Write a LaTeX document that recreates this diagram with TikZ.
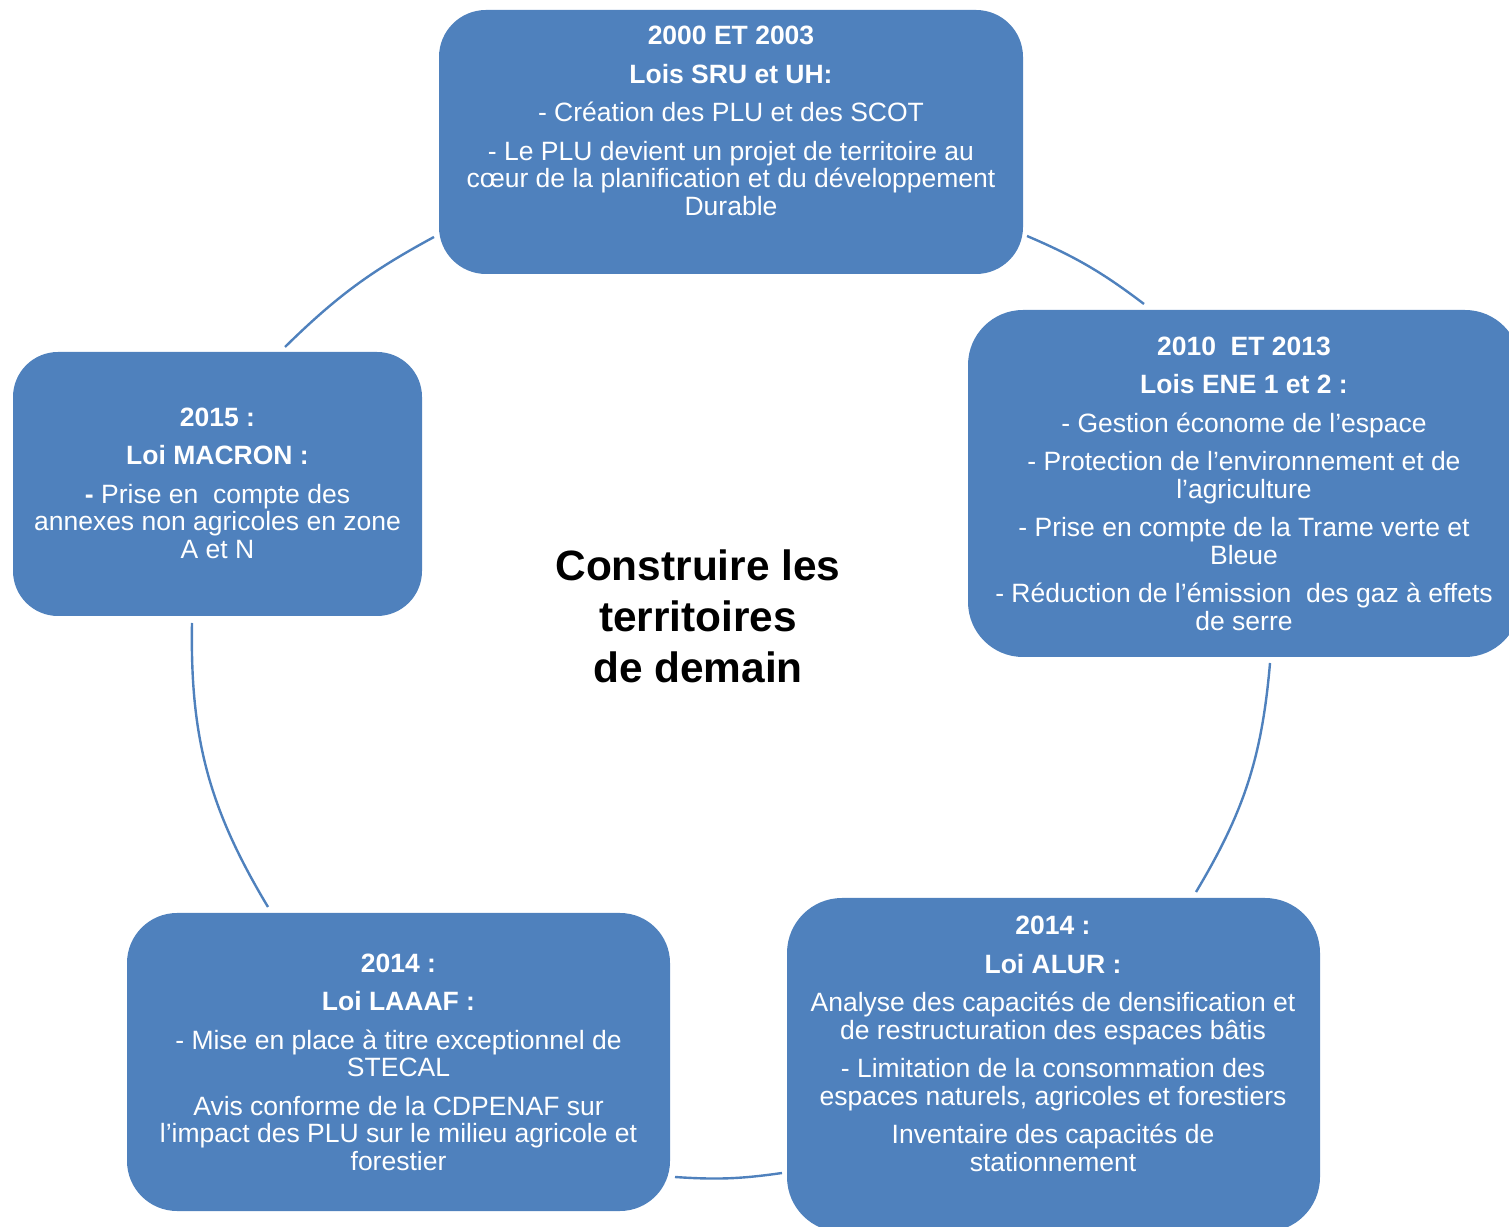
\documentclass[tikz,border=0pt]{standalone}
\usepackage{fontspec}
\setmainfont{Liberation Sans}
\usetikzlibrary{calc}
\definecolor{boxblue}{RGB}{79,129,189}
\begin{document}
\begin{tikzpicture}[x=1pt,y=1pt,
  lawbox/.style={rectangle, fill=boxblue, inner sep=0pt},
  lawtxt/.style={text=white, align=center, inner sep=0pt, font=\fontsize{26.5}{27.5}\selectfont},
  titletxt/.style={text=black, align=center, inner sep=0pt, font=\bfseries\fontsize{42.4}{51}\selectfont},
  link/.style={draw=boxblue, line width=2.4pt}]
\useasboundingbox (0,0) rectangle (1509,1226);
\clip (0,0) rectangle (1509,1226);
% boxes
\node[lawbox, rounded corners=47pt, minimum width=584pt, minimum height=264pt] (top) at (731,1084) {};
\node[lawbox, rounded corners=55pt, minimum width=552pt, minimum height=347pt] (right) at (1244,742.5) {};
\node[lawbox, rounded corners=45pt, minimum width=409pt, minimum height=264pt] (left) at (217.5,742) {};
\node[lawbox, rounded corners=50pt, minimum width=543pt, minimum height=298pt] (botleft) at (398.5,164) {};
\node[lawbox, rounded corners=55pt, minimum width=533pt, minimum height=334pt] (botright) at (1053.5,161) {};
% texts
\node[lawtxt] (toptxt) at (731,1105) {\textbf{2000 ET 2003}\\[11pt]\textbf{Lois SRU et UH:}\\[11pt]- Création des PLU et des SCOT\\[11pt]- Le PLU devient un projet de territoire au\\cœur de la planification et du développement\\Durable};
\node[lawtxt] (righttxt) at (1244,742.5) {\textbf{2010~ ET 2013}\\[11pt]\textbf{Lois ENE 1 et 2 :}\\[11pt]- Gestion économe de l’espace\\[11pt]- Protection de l’environnement et de\\l’agriculture\\[11pt]- Prise en compte de la Trame verte et\\Bleue\\[11pt]- Réduction de l’émission~ des gaz à effets\\de serre};
\node[lawtxt] (lefttxt) at (217.5,743) {\textbf{2015 :}\\[11pt]\textbf{Loi MACRON :}\\[11pt]\textbf{-} Prise en~ compte des\\annexes non agricoles en zone\\A et N};
\node[lawtxt] (botlefttxt) at (398.5,164) {\textbf{2014 :}\\[11pt]\textbf{Loi LAAAF :}\\[11pt]- Mise en place à titre exceptionnel de\\STECAL\\[11pt]Avis conforme de la CDPENAF sur\\l’impact des PLU sur le milieu agricole et\\forestier};
\node[lawtxt] (botrighttxt) at (1053,182) {\textbf{2014 :}\\[11pt]\textbf{Loi ALUR :}\\[11pt]Analyse des capacités de densification et\\de restructuration des espaces bâtis\\[11pt]- Limitation de la consommation des\\espaces naturels, agricoles et forestiers\\[11pt]Inventaire des capacités de\\stationnement};
\node[titletxt] (title) at (698,610) {Construire les\\territoires\\de demain};
% connector ends
\coordinate (a1s) at (434,989);  \coordinate (a1e) at (285,879);
\coordinate (a2s) at (1027,990); \coordinate (a2e) at (1144,922);
\coordinate (a3s) at (192,603);  \coordinate (a3e) at (268,319);
\coordinate (a4s) at (1270,563); \coordinate (a4e) at (1196,334);
\coordinate (a5s) at (675,49);   \coordinate (a5e) at (782,53);
% connectors
\draw[link] (a1s) to[bend right=8] (a1e);
\draw[link] (a2s) to[bend left=7] (a2e);
\draw[link] (a3s) to[bend right=16] (a3e);
\draw[link] (a4s) to[bend left=13] (a4e);
\draw[link] (a5s) to[bend right=6] (a5e);
\end{tikzpicture}
\end{document}
